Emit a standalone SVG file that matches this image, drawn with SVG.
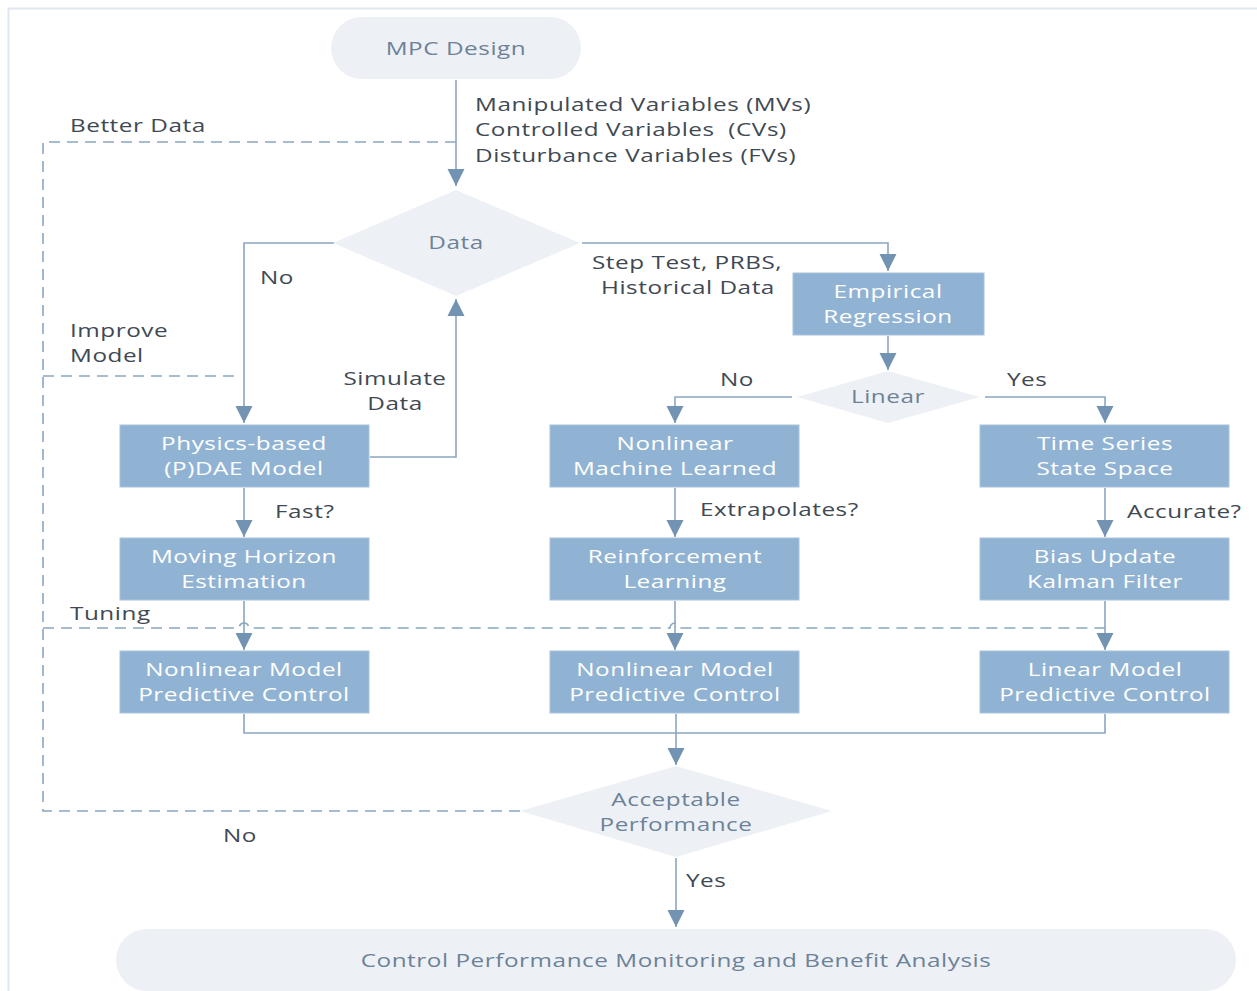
<svg xmlns="http://www.w3.org/2000/svg" width="1257" height="991" viewBox="0 0 1257 991">
<defs>
<style>
.box{fill:#91b3d3;stroke:#a9c3dc;stroke-width:1}
.term{fill:#edf1f6}
.dia{fill:#edf1f6}
text{font-family:"Open Sans","DejaVu Sans",sans-serif;font-size:18px;letter-spacing:0.4px;transform-box:fill-box;transform:scale(1.35,1)}
.bt{fill:#ffffff;text-anchor:middle;transform-origin:center}
.tt{fill:#6d8298;text-anchor:middle;transform-origin:center}
.lb{fill:#3f4953;transform-origin:left center}
.lbm{fill:#3f4953;text-anchor:middle;transform-origin:center}
.pre{white-space:pre}
.ln{fill:none;stroke:#8ba6c1;stroke-width:1.6}
.dash{fill:none;stroke:#8ba6c1;stroke-width:1.6;stroke-dasharray:11,7}
</style>
<marker id="ah" viewBox="0 0 10 10" refX="10" refY="5" markerUnits="userSpaceOnUse" markerWidth="17" markerHeight="18" orient="auto">
<path d="M0,0 L10,5 L0,10 z" fill="#7393b2"/>
</marker>
</defs>
<rect x="0" y="0" width="1257" height="991" fill="#ffffff"/>
<path d="M8.5,991 V8.5 H1257" fill="none" stroke="#dfe7f2" stroke-width="2"/>

<g id="connectors">
<path class="ln" d="M456,80 V186" marker-end="url(#ah)"/>
<path class="dash" d="M456,142 H43 V811 H520"/>
<path class="dash" d="M43,376 H240"/>
<path class="dash" d="M43,628 H239 A5,5 0 0 1 249,628 H670 A5,5 0 0 1 680,628 H1105"/>
<path class="ln" d="M334,243 H244 V423" marker-end="url(#ah)"/>
<path class="ln" d="M582,243 H888 V271" marker-end="url(#ah)"/>
<path class="ln" d="M370,457 H456 V299" marker-end="url(#ah)"/>
<path class="ln" d="M888,336 V370" marker-end="url(#ah)"/>
<path class="ln" d="M792,397 H675 V423" marker-end="url(#ah)"/>
<path class="ln" d="M985,397 H1105 V423" marker-end="url(#ah)"/>
<path class="ln" d="M244,488 V537" marker-end="url(#ah)"/>
<path class="ln" d="M675,488 V537" marker-end="url(#ah)"/>
<path class="ln" d="M1105,488 V537" marker-end="url(#ah)"/>
<path class="ln" d="M244,601 V650" marker-end="url(#ah)"/>
<path class="ln" d="M675,601 V650" marker-end="url(#ah)"/>
<path class="ln" d="M1105,601 V650" marker-end="url(#ah)"/>
<path class="ln" d="M244,714 V733 H1105 V714"/>
<path class="ln" d="M676,714 V765" marker-end="url(#ah)"/>
<path class="ln" d="M676,858 V927" marker-end="url(#ah)"/>
</g>

<g id="labels">
<text class="lb" x="475" y="111">Manipulated Variables (MVs)</text>
<text class="lb pre" x="475" y="136">Controlled Variables  (CVs)</text>
<text class="lb" x="475" y="162">Disturbance Variables (FVs)</text>
<text class="lb" x="70" y="132">Better Data</text>
<text class="lb" x="260" y="284">No</text>
<text class="lb" x="592" y="269">Step Test, PRBS,</text>
<text class="lb" x="601" y="294">Historical Data</text>
<text class="lb" x="70" y="337">Improve</text>
<text class="lb" x="70" y="362">Model</text>
<text class="lbm" x="395" y="385">Simulate</text>
<text class="lbm" x="395" y="410">Data</text>
<text class="lb" x="720" y="386">No</text>
<text class="lb" x="1007" y="386">Yes</text>
<text class="lb" x="275" y="518">Fast?</text>
<text class="lb" x="700" y="516">Extrapolates?</text>
<text class="lb" x="1127" y="518">Accurate?</text>
<text class="lb" x="70" y="620">Tuning</text>
<text class="lb" x="223" y="842">No</text>
<text class="lb" x="686" y="887">Yes</text>
</g>

<g id="mpc-design">
<rect class="term" x="331" y="17" width="250" height="62" rx="31"/>
<text class="tt" x="456" y="55">MPC Design</text>
</g>
<g id="data">
<polygon class="dia" points="456,190 580,243 456,296 333,243"/>
<text class="tt" x="456" y="249">Data</text>
</g>
<g id="empirical-regression">
<rect class="box" x="793" y="273" width="191" height="62"/>
<text class="bt" x="888" y="298">Empirical</text>
<text class="bt" x="888" y="323">Regression</text>
</g>
<g id="linear">
<polygon class="dia" points="888,371 980,397 888,423 797,397"/>
<text class="tt" x="888" y="403">Linear</text>
</g>
<g id="physics">
<rect class="box" x="120" y="425" width="249" height="62"/>
<text class="bt" x="244" y="450">Physics-based</text>
<text class="bt" x="244" y="475">(P)DAE Model</text>
</g>
<g id="nonlinear-ml">
<rect class="box" x="550" y="425" width="249" height="62"/>
<text class="bt" x="675" y="450">Nonlinear</text>
<text class="bt" x="675" y="475">Machine Learned</text>
</g>
<g id="time-series">
<rect class="box" x="980" y="425" width="249" height="62"/>
<text class="bt" x="1105" y="450">Time Series</text>
<text class="bt" x="1105" y="475">State Space</text>
</g>
<g id="mhe">
<rect class="box" x="120" y="538" width="249" height="62"/>
<text class="bt" x="244" y="563">Moving Horizon</text>
<text class="bt" x="244" y="588">Estimation</text>
</g>
<g id="rl">
<rect class="box" x="550" y="538" width="249" height="62"/>
<text class="bt" x="675" y="563">Reinforcement</text>
<text class="bt" x="675" y="588">Learning</text>
</g>
<g id="bias-update">
<rect class="box" x="980" y="538" width="249" height="62"/>
<text class="bt" x="1105" y="563">Bias Update</text>
<text class="bt" x="1105" y="588">Kalman Filter</text>
</g>
<g id="nmpc1">
<rect class="box" x="120" y="651" width="249" height="62"/>
<text class="bt" x="244" y="676">Nonlinear Model</text>
<text class="bt" x="244" y="701">Predictive Control</text>
</g>
<g id="nmpc2">
<rect class="box" x="550" y="651" width="249" height="62"/>
<text class="bt" x="675" y="676">Nonlinear Model</text>
<text class="bt" x="675" y="701">Predictive Control</text>
</g>
<g id="lmpc">
<rect class="box" x="980" y="651" width="249" height="62"/>
<text class="bt" x="1105" y="676">Linear Model</text>
<text class="bt" x="1105" y="701">Predictive Control</text>
</g>
<g id="acceptable">
<polygon class="dia" points="676,766 832,811 676,857 520,811"/>
<text class="tt" x="676" y="806">Acceptable</text>
<text class="tt" x="676" y="831">Performance</text>
</g>
<g id="monitoring">
<rect class="term" x="116" y="929" width="1120" height="62" rx="31"/>
<text class="tt" x="676" y="967">Control Performance Monitoring and Benefit Analysis</text>
</g>
</svg>
